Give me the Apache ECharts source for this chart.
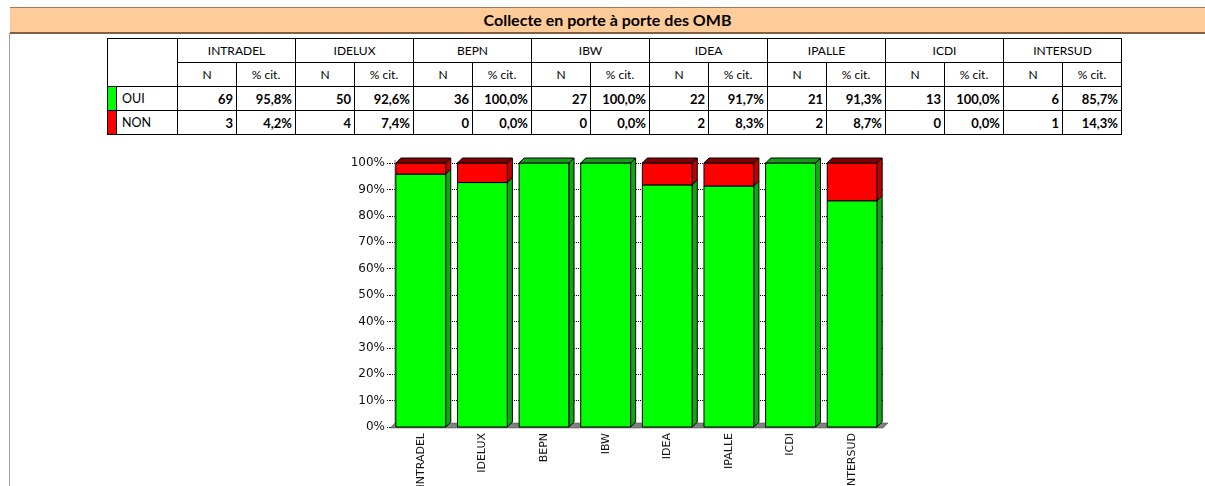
<!DOCTYPE html>
<html>
<head>
<meta charset="utf-8">
<script src="https://cdn.jsdelivr.net/npm/echarts@6/dist/echarts.min.js"></script>
<style>
  html, body { margin: 0; padding: 0; background: #fff; }
  body { width: 1205px; height: 486px; overflow: hidden; position: relative; }
  #title {
    position: absolute; left: 10px; top: 7px; width: 1195px; height: 24px;
    background: #FFCC99; border-top: 1px solid #A0785A; border-bottom: 2px solid #7F6040;
    font: bold 16px Lato, sans-serif; text-align: center; line-height: 24px; color: #000;
  }
  #leftline { position: absolute; left: 9px; top: 33px; width: 1px; height: 453px; background: #A0A0A0; }
  #tbl {
    position: absolute; left: 107px; top: 38px; border-collapse: collapse; table-layout: fixed;
    font: 12px Lato, sans-serif; color: #000;
  }
  #tbl td { border: 1px solid #000; height: 23px; padding: 0; text-align: center; white-space: nowrap; }
  #tbl td.num { text-align: right; padding-right: 3px; font-weight: bold; font-size: 13px; }
  #tbl td.sw { width: 8px; }
  #tbl td.lab { text-align: left; padding-left: 5px; font-size: 12.5px; }
  #chart { position: absolute; left: 0; top: 140px; width: 1205px; height: 346px; }
</style>
</head>
<body>
<div id="title">Collecte en porte à porte des OMB</div>
<div id="leftline"></div>
<table id="tbl"></table>
<div id="chart"></div>
<script>
const categories = ['INTRADEL', 'IDELUX', 'BEPN', 'IBW', 'IDEA', 'IPALLE', 'ICDI', 'INTERSUD']
const ouiN = [69, 50, 36, 27, 22, 21, 13, 6]
const nonN = [3, 4, 0, 0, 2, 2, 0, 1]
const ouiPct = [95.8, 92.6, 100.0, 100.0, 91.7, 91.3, 100.0, 85.7]
const nonPct = [4.2, 7.4, 0.0, 0.0, 8.3, 8.7, 0.0, 14.3]

const GREEN = { front: '#00FF00', side: '#10A810', top: '#1A9A1A' }
const RED = { front: '#FF0000', side: '#C00000', top: '#800000' }
const DEPTH = 5

const fmtPct = (v) => v.toFixed(1).replace('.', ',') + '%'

// table
const buildTable = () => {
  let html = '<colgroup><col style="width:9px"><col style="width:61px">'
  categories.forEach(() => { html += '<col style="width:59px"><col style="width:59px">' })
  html += '</colgroup>'
  html += '<tr><td colspan="2" rowspan="2"></td>'
  categories.forEach(c => { html += `<td colspan="2">${c}</td>` })
  html += '</tr><tr>'
  categories.forEach(() => { html += '<td>N</td><td>% cit.</td>' })
  html += '</tr>'
  const rows = [
    { label: 'OUI', color: GREEN.front, n: ouiN, p: ouiPct },
    { label: 'NON', color: RED.front, n: nonN, p: nonPct }
  ]
  rows.forEach(r => {
    html += `<tr><td class="sw" style="background:${r.color}"></td><td class="lab">${r.label}</td>`
    categories.forEach((c, i) => {
      html += `<td class="num">${r.n[i]}</td><td class="num">${fmtPct(r.p[i])}</td>`
    })
    html += '</tr>'
  })
  document.getElementById('tbl').innerHTML = html
}
buildTable()

// 3d-ish stacked bars
const renderBar = (colors, isTopFn) => (params, api) => {
  const i = api.value(0)
  const base = api.value(1)
  const top = api.value(2)
  if (top - base <= 0) return
  const p0 = api.coord([i, base])
  const p1 = api.coord([i, top])
  const w = api.size([1, 0])[0] * 0.81
  const x = p0[0] - w / 2
  const yb = p0[1]
  const yt = p1[1]
  const d = DEPTH
  const stroke = { stroke: '#000', lineWidth: 1 }
  const children = [
    { type: 'rect', shape: { x: x, y: yt, width: w, height: yb - yt }, style: Object.assign({ fill: colors.front }, stroke) },
    { type: 'polygon', shape: { points: [[x + w, yt], [x + w + d, yt - d], [x + w + d, yb - d], [x + w, yb]] }, style: Object.assign({ fill: colors.side }, stroke) }
  ]
  if (isTopFn(params.dataIndex)) {
    children.push({ type: 'polygon', shape: { points: [[x, yt], [x + d, yt - d], [x + w + d, yt - d], [x + w, yt]] }, style: Object.assign({ fill: colors.top }, stroke) })
  }
  return { type: 'group', children }
}

const renderFloor = (params, api) => {
  const cs = params.coordSys
  const d = DEPTH
  const yb = cs.y + cs.height
  return {
    type: 'group',
    children: [
      { type: 'line', shape: { x1: cs.x + d, y1: cs.y - 3, x2: cs.x + d, y2: yb }, style: { stroke: '#808080', lineWidth: 1 } },
      { type: 'polygon', shape: { points: [[cs.x, yb + 1], [cs.x + d, yb - d + 1], [cs.x + cs.width + d, yb - d + 1], [cs.x + cs.width, yb + 1]] }, style: { fill: '#808080', stroke: '#404040', lineWidth: 0.5 } }
    ]
  }
}

const chart = echarts.init(document.getElementById('chart'))
chart.setOption({
  animation: false,
  grid: { left: 390, top: 23, width: 493, height: 264, outerBoundsMode: 'none', containLabel: false },
  xAxis: {
    type: 'category',
    data: categories,
    axisLine: { show: false },
    axisTick: { show: false },
    axisLabel: { rotate: 90, margin: 6, fontFamily: 'DejaVu Sans', fontSize: 11, color: '#111' }
  },
  yAxis: {
    type: 'value',
    min: 0,
    max: 100,
    interval: 10,
    axisLine: { show: false },
    axisTick: { show: true, length: 3, lineStyle: { color: '#000', type: 'dotted' } },
    axisLabel: { formatter: '{value}%', margin: 5, fontFamily: 'DejaVu Sans', fontSize: 12, color: '#111' },
    splitLine: { show: true, lineStyle: { color: '#000', type: 'dotted', width: 1 } }
  },
  series: [
    {
      type: 'custom',
      clip: false,
      z: 1,
      renderItem: renderFloor,
      data: [[0, 0, 0]]
    },
    {
      name: 'OUI',
      type: 'custom',
      clip: false,
      z: 2,
      renderItem: renderBar(GREEN, (idx) => nonPct[idx] <= 0),
      data: categories.map((c, i) => [i, 0, ouiPct[i]])
    },
    {
      name: 'NON',
      type: 'custom',
      clip: false,
      z: 3,
      renderItem: renderBar(RED, () => true),
      data: categories.map((c, i) => [i, ouiPct[i], ouiPct[i] + nonPct[i]])
    }
  ]
})
</script>
</body>
</html>
